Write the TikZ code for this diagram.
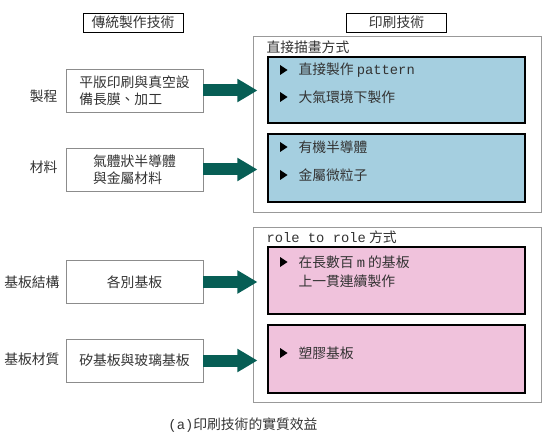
\documentclass[tikz,border=0pt]{standalone}
\usepackage{fontspec}
\setmainfont{Noto Sans CJK TC}
\setmonofont{Liberation Mono}
\usetikzlibrary{arrows.meta}
\definecolor{arrowgreen}{HTML}{075E55}
\definecolor{paneblue}{HTML}{A5CFE0}
\definecolor{panepink}{HTML}{F0C2DC}

\begin{document}
\begin{tikzpicture}[x=1pt,y=-1pt,
    every node/.style={font=\fontsize{13.8}{17}\selectfont,text=black!80},
    head/.style={draw=black,line width=0.9pt,minimum width=100pt,minimum height=19pt,inner sep=0pt},
    lbox/.style={draw=black!45,line width=0.8pt,minimum width=137pt,minimum height=43pt,align=left},
    frame/.style={draw=black!40,line width=0.8pt,minimum width=288pt,minimum height=176pt},
    panel/.style={draw=black,line width=1.1pt,minimum width=257pt},
    item/.style={anchor=west,align=left},
    fatarrow/.style={draw=arrowgreen,line width=12pt,-{Triangle[length=20pt,width=22pt]},shorten >=10pt}]
    \useasboundingbox (0,0) rectangle (550,444);
    \node[head] (trad) at (133,22.5) {傳統製作技術};
    \node[head] (print) at (396.5,22.5) {印刷技術};
    \node[frame] (outA) at (397,124) {};
    \node[frame,minimum height=175pt] (outB) at (397,314.5) {};
    \node[anchor=west] (direct) at (263,47) {直接描畫方式};
    \node[anchor=west] (roll) at (263,237) {\texttt{role to role} 方式};
    \node[panel,fill=paneblue,minimum height=66pt] (blueA) at (396.5,90) {};
    \node[panel,fill=paneblue,minimum height=68pt] (blueB) at (396.5,168) {};
    \node[panel,fill=panepink,minimum height=67pt] (pinkA) at (396.5,280.5) {};
    \node[panel,fill=panepink,minimum height=68pt] (pinkB) at (396.5,359) {};
    \node[item] (dA1) at (295,70) {直接製作 \texttt{pattern}};
    \node[item] (dA2) at (295,97) {大氣環境下製作};
    \node[item] (dB1) at (295,147) {有機半導體};
    \node[item] (dB2) at (295,175) {金屬微粒子};
    \node[item,font=\fontsize{13.8}{19}\selectfont] (rA1) at (295,271.5) {在長數百 \texttt{m} 的基板\\上一貫連續製作};
    \node[item] (rB1) at (295,353) {塑膠基板};
    \foreach \y in {70,97,147,175,262,353}
    \fill ({280},{\y-5}) -- ({287.5},{\y}) -- ({280},{\y+5}) -- cycle;
    \node[lbox] (proc) at (134.5,90.5) {平版印刷與真空設\\備長膜、加工};
    \node[lbox] (mat) at (134.5,169.5) {氣體狀半導體\\與金屬材料};
    \node[lbox] (sub) at (134.5,282) {各別基板};
    \node[lbox] (subm) at (134.5,360.5) {矽基板與玻璃基板};
    \node[anchor=east] (procl) at (61,96) {製程};
    \node[anchor=east] (matl) at (61,167.5) {材料};
    \node[anchor=east] (subl) at (63,282.5) {基板結構};
    \node[anchor=east] (subml) at (63,359) {基板材質};
    \draw[fatarrow] (proc.east) -- (proc.east -| blueA.west);
    \draw[fatarrow] (mat.east) -- (mat.east -| blueB.west);
    \draw[fatarrow] (sub.east) -- (sub.east -| pinkA.west);
    \draw[fatarrow] (subm.east) -- (subm.east -| pinkB.west);
    \node (cap) at (243,425) {\texttt{(a)}印刷技術的實質效益};
\end{tikzpicture}
\end{document}
